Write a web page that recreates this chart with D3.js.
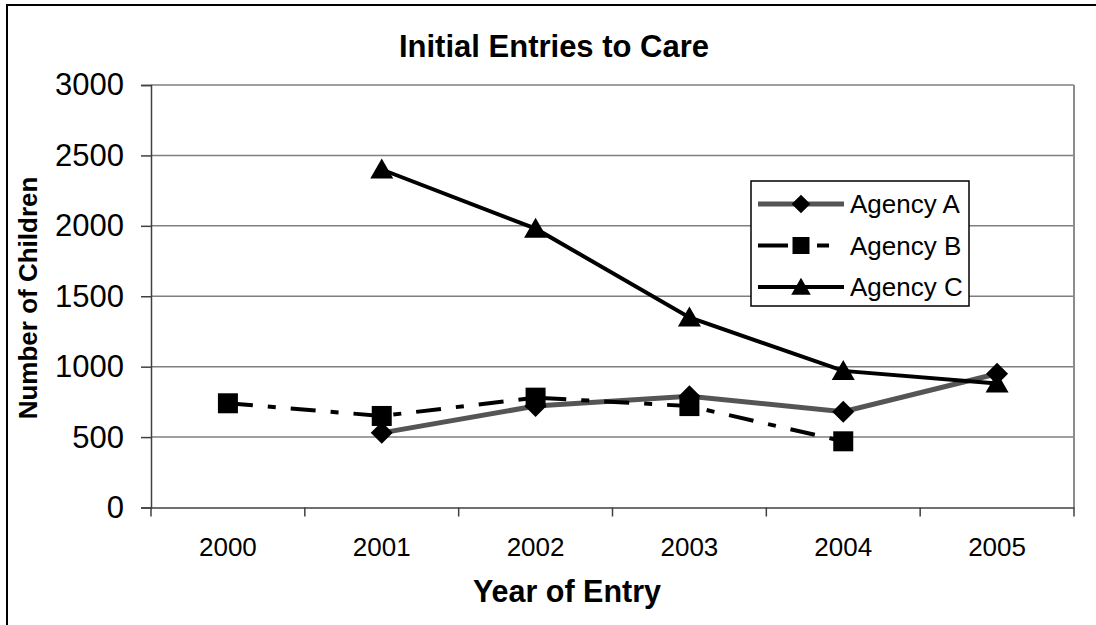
<!DOCTYPE html>
<html lang="en">
<head>
<meta charset="UTF-8">
<title>Initial Entries to Care</title>
<script src="https://d3js.org/d3.v7.min.js"></script>
<style>
  body { margin: 0; background: #fff; }
  svg { font-family: "Liberation Sans", Arial, sans-serif; }
</style>
</head>
<body>
<div id="chart"></div>
<script>
// data
const years = ["2000", "2001", "2002", "2003", "2004", "2005"];
const agencyA = [null, 530, 720, 790, 680, 950];
const agencyB = [740, 650, 780, 720, 470, null];
const agencyC = [null, 2400, 1980, 1350, 970, 880];
const yTicks = [0, 500, 1000, 1500, 2000, 2500, 3000];

const W = 1096, H = 625;
const plotL = 151, plotR = 1074, plotT = 85, plotB = 507.5;

const svg = d3.select("#chart").append("svg")
  .attr("width", W)
  .attr("height", H);

// outer chart frame
svg.append("rect")
  .attr("x", 7).attr("y", 5)
  .attr("width", 1100).attr("height", 640)
  .attr("fill", "#fff")
  .attr("stroke", "#000")
  .attr("stroke-width", 2);

const x = d3.scaleBand().domain(years).range([plotL, plotR]);
const y = d3.scaleLinear().domain([0, 3000]).range([plotB, plotT]);

// gridlines
svg.append("g").selectAll("line")
  .data(yTicks.filter(d => d > 0))
  .join("line")
  .attr("x1", plotL).attr("x2", plotR)
  .attr("y1", d => y(d)).attr("y2", d => y(d))
  .attr("stroke", "#7f7f7f")
  .attr("stroke-width", 1.5);

// right border of plot area
svg.append("line")
  .attr("x1", plotR).attr("x2", plotR)
  .attr("y1", plotT).attr("y2", plotB)
  .attr("stroke", "#8c8c8c")
  .attr("stroke-width", 2);

// y axis
const yAxis = svg.append("g")
  .attr("transform", `translate(${plotL},0)`)
  .call(d3.axisLeft(y).tickValues(yTicks).tickFormat(d3.format("d")).tickSize(10).tickPadding(17));
yAxis.select(".domain").attr("stroke", "#404040").attr("stroke-width", 1.5);
yAxis.selectAll(".tick line").attr("stroke", "#404040").attr("stroke-width", 1.5);
yAxis.selectAll(".tick text")
  .attr("font-size", 31)
  .attr("font-family", "Liberation Sans, Arial, sans-serif")
  .attr("fill", "#000");

// x axis
const xAxis = svg.append("g")
  .attr("transform", `translate(0,${plotB})`)
  .call(d3.axisBottom(x).tickSize(0).tickPadding(30));
xAxis.select(".domain").attr("stroke", "#404040").attr("stroke-width", 1.5);
xAxis.selectAll(".tick text")
  .attr("font-size", 26)
  .attr("font-family", "Liberation Sans, Arial, sans-serif")
  .attr("fill", "#000");

// x tick marks on category boundaries
const bounds = years.map(d => x(d)).concat([x(years[years.length - 1]) + x.bandwidth()]);
svg.append("g").selectAll("line")
  .data(bounds)
  .join("line")
  .attr("x1", d => d).attr("x2", d => d)
  .attr("y1", plotB).attr("y2", plotB + 9)
  .attr("stroke", "#404040")
  .attr("stroke-width", 1.5);

// titles
svg.append("text")
  .attr("x", 554).attr("y", 57)
  .attr("text-anchor", "middle")
  .attr("font-size", 31)
  .attr("font-weight", "bold")
  .text("Initial Entries to Care");

svg.append("text")
  .attr("x", 567).attr("y", 602)
  .attr("text-anchor", "middle")
  .attr("font-size", 30.5)
  .attr("font-weight", "bold")
  .text("Year of Entry");

svg.append("text")
  .attr("transform", "translate(37,298) rotate(-90)")
  .attr("text-anchor", "middle")
  .attr("font-size", 26)
  .attr("font-weight", "bold")
  .text("Number of Children");

// series
const series = [
  { name: "Agency A", values: agencyA, color: "#555", width: 5, dash: null, marker: "diamond" },
  { name: "Agency B", values: agencyB, color: "#000", width: 4, dash: "25,15,8,15", marker: "square" },
  { name: "Agency C", values: agencyC, color: "#000", width: 4, dash: null, marker: "triangle" }
];

function markerPath(type) {
  if (type === "diamond") return "M0,-11L11,0L0,11L-11,0Z";
  if (type === "square") return "M-10,-10H10V10H-10Z";
  return "M0,-11L11.5,9L-11.5,9Z";
}

const cx = d => x(d) + x.bandwidth() / 2;
const line = d3.line()
  .defined(d => d.v != null)
  .x(d => cx(d.year))
  .y(d => y(d.v));

series.forEach(s => {
  const pts = years.map((yr, i) => ({ year: yr, v: s.values[i] }));
  svg.append("path")
    .datum(pts)
    .attr("fill", "none")
    .attr("stroke", s.color)
    .attr("stroke-width", s.width)
    .attr("stroke-dasharray", s.dash)
    .attr("d", line);
  svg.append("g").selectAll("path")
    .data(pts.filter(d => d.v != null))
    .join("path")
    .attr("transform", d => `translate(${cx(d.year)},${y(d.v)})`)
    .attr("d", markerPath(s.marker))
    .attr("fill", "#000");
});

// legend
const lg = svg.append("g").attr("transform", "translate(751,181)");
lg.append("rect")
  .attr("width", 218).attr("height", 125)
  .attr("fill", "#fff")
  .attr("stroke", "#000")
  .attr("stroke-width", 1.5);

series.forEach((s, i) => {
  const ly = 23 + i * 41.5;
  lg.append("line")
    .attr("x1", 7).attr("x2", 93)
    .attr("y1", ly).attr("y2", ly)
    .attr("stroke", s.color)
    .attr("stroke-width", s.width)
    .attr("stroke-dasharray", s.marker === "square" ? "30,12,5,12,12" : null);
  lg.append("path")
    .attr("d", markerPath(s.marker))
    .attr("fill", "#000")
    .attr("transform", `translate(50,${ly}) scale(0.85)`);
  lg.append("text")
    .attr("x", 99).attr("y", ly + 9)
    .attr("font-size", 26)
    .attr("fill", "#000")
    .text(s.name);
});
</script>
</body>
</html>
